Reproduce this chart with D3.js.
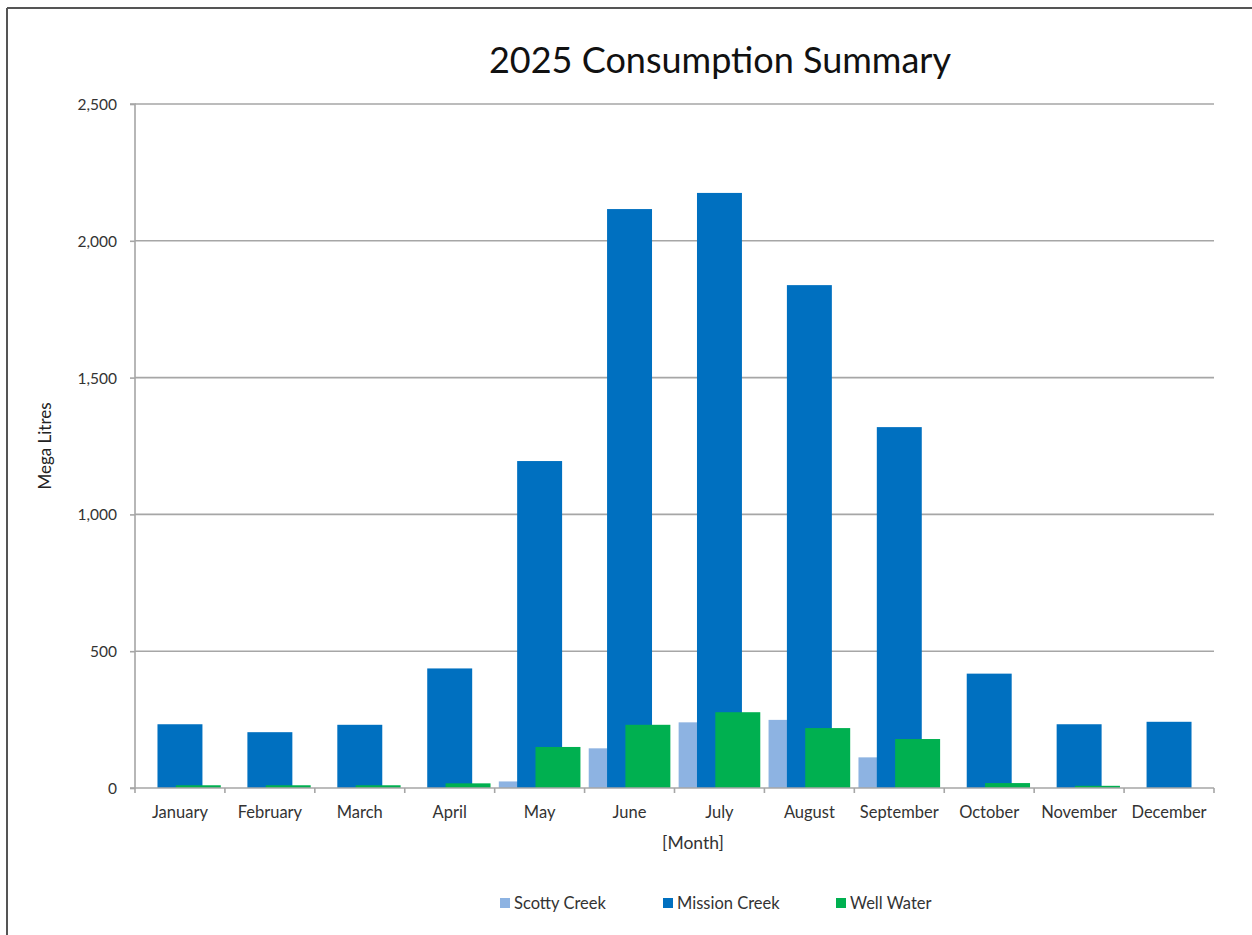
<!DOCTYPE html>
<html><head><meta charset="utf-8">
<script src="https://cdn.jsdelivr.net/npm/d3@7"></script>
<style>body{margin:0;background:#fff}svg{display:block}</style>
</head><body>
<svg id="c" width="1252" height="935"></svg>
<script>
const months = ["January","February","March","April","May","June","July","August","September","October","November","December"];
const seriesNames = ["Scotty Creek","Mission Creek","Well Water"];
const scottyCreek = [0,0,0,0,24,145,240,249,112,0,0,0];
const missionCreek = [233,204,231,437,1195,2116,2175,1838,1319,418,233,242];
const wellWater = [10,10,10,17,150,231,277,219,179,18,8,0];
const yTicks = [0,500,1000,1500,2000,2500];
const colors = ["#8DB3E2","#0070C0","#00B050"];

const svg = d3.select("#c");
const font = "Lato, 'Open Sans', sans-serif";
const m = {l:135, r:1214, t:104, b:788};

// frame
svg.append("line").attr("x1",7).attr("x2",7).attr("y1",8).attr("y2",935).attr("stroke","#555").attr("stroke-width",2);
svg.append("line").attr("x1",7).attr("x2",1252).attr("y1",8).attr("y2",8).attr("stroke","#555").attr("stroke-width",2);

const x = d3.scaleBand().domain(months).range([m.l,m.r]).paddingInner(0).paddingOuter(0);
const y = d3.scaleLinear().domain([0,2500]).range([m.b,m.t]);

// gridlines
svg.append("g").selectAll("line").data(yTicks.filter(d=>d>0)).join("line")
  .attr("x1",m.l).attr("x2",m.r).attr("y1",d=>y(d)).attr("y2",d=>y(d))
  .attr("stroke","#A6A6A6").attr("stroke-width",1.6);

// bars
const bw = x.bandwidth();
const barW = bw*0.5;
const step = bw*0.204;
const groupW = barW + 2*step;
const off = (bw-groupW)/2;
const data = [scottyCreek, missionCreek, wellWater];
data.forEach((vals,si)=>{
  svg.append("g").selectAll("rect").data(vals).join("rect")
    .attr("x",(d,i)=>x(months[i])+off+si*step)
    .attr("width",barW)
    .attr("y",d=>y(d))
    .attr("height",d=>y(0)-y(d))
    .attr("fill",colors[si]);
});

// y axis
const ya = d3.axisLeft(y).tickValues(yTicks).tickSize(5).tickFormat(d3.format(","));
const gy = svg.append("g").attr("transform",`translate(${m.l},0)`).call(ya);
gy.select(".domain").attr("stroke","#A6A6A6").attr("stroke-width",1.6).attr("d",`M-5,${m.t}H0V${m.b}H-5`);
gy.selectAll(".tick line").attr("stroke","#A6A6A6").attr("stroke-width",1.6);
gy.selectAll(".tick text").attr("x",-18).attr("font-family",font).attr("font-size",15.5).attr("fill","#333").attr("dy","0.35em");

// x axis
const xa = d3.axisBottom(x).tickSize(0).tickPadding(0);
const gx = svg.append("g").attr("transform",`translate(0,${m.b})`).call(xa);
gx.select(".domain").attr("stroke","#A6A6A6").attr("stroke-width",1.6).attr("d",`M${m.l},0H${m.r}`);
gx.selectAll(".tick text").attr("y",24).attr("dy","0.35em").attr("font-family",font).attr("font-size",16.5).attr("fill","#333");
const bounds = months.map(d=>x(d)).concat([m.r]);
svg.append("g").selectAll("line").data(bounds).join("line")
  .attr("x1",d=>d).attr("x2",d=>d).attr("y1",m.b).attr("y2",m.b+5)
  .attr("stroke","#A6A6A6").attr("stroke-width",1.6);

// titles
svg.append("text").attr("x",720).attr("y",73).attr("text-anchor","middle")
  .attr("font-family",font).attr("font-size",36).attr("fill","#111").text("2025 Consumption Summary");
svg.append("text").attr("transform","translate(45,446) rotate(-90)").attr("text-anchor","middle").attr("dy","0.35em")
  .attr("font-family",font).attr("font-size",17).attr("fill","#222").text("Mega Litres");
svg.append("text").attr("x",693).attr("y",843).attr("dy","0.35em").attr("text-anchor","middle")
  .attr("font-family",font).attr("font-size",17.5).attr("fill","#333").text("[Month]");

// legend
const legX = [500,663,836];
const lg = svg.append("g").selectAll("g").data(seriesNames).join("g")
  .attr("transform",(d,i)=>`translate(${legX[i]},903)`);
lg.append("rect").attr("x",0).attr("y",-5).attr("width",10).attr("height",10).attr("fill",(d,i)=>colors[i]);
lg.append("text").attr("x",14).attr("y",0).attr("dy","0.35em").attr("font-family",font).attr("font-size",16.5).attr("fill","#333").text(d=>d);
</script>
</body></html>
